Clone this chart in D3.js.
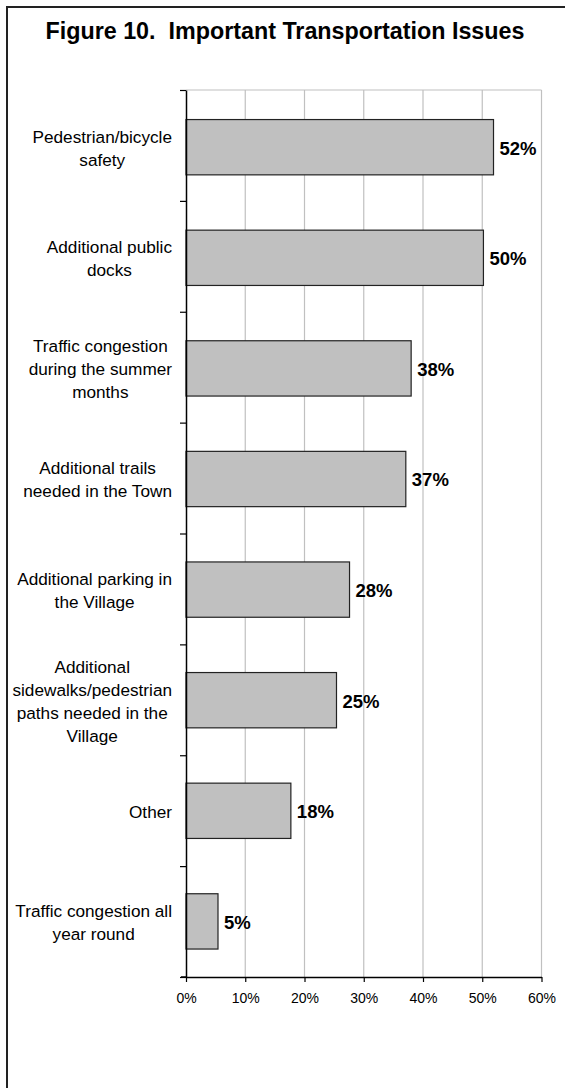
<!DOCTYPE html>
<html>
<head>
<meta charset="utf-8">
<script src="https://cdn.jsdelivr.net/npm/d3@7"></script>
<style>
  body { margin: 0; background: #fff; }
  svg { display: block; font-family: "Liberation Sans", Arial, sans-serif; }
</style>
</head>
<body>
<svg></svg>
<script>
// data
var categories = [
    ["Pedestrian/bicycle", "safety"],
    ["Additional public", "docks"],
    ["Traffic congestion", "during the summer", "months"],
    ["Additional trails", "needed in the Town"],
    ["Additional parking in", "the Village"],
    ["Additional", "sidewalks/pedestrian", "paths needed in the", "Village"],
    ["Other"],
    ["Traffic congestion all", "year round"]
];
var values = [0.519, 0.502, 0.380, 0.371, 0.276, 0.254, 0.177, 0.054];
var xTicks = [0, 0.1, 0.2, 0.3, 0.4, 0.5, 0.6];

var WIDTH = 565, HEIGHT = 1088;
var plot = { left: 186, right: 541.5, top: 90, bottom: 977 };

var svg = d3.select("svg")
    .attr("width", WIDTH)
    .attr("height", HEIGHT);

svg.append("rect")
    .attr("width", WIDTH).attr("height", HEIGHT)
    .attr("fill", "#fff");

// outer frame (runs off the right and bottom edge)
svg.append("rect")
    .attr("x", 7).attr("y", 7)
    .attr("width", 580).attr("height", 1110)
    .attr("fill", "none")
    .attr("stroke", "#222")
    .attr("stroke-width", 2);

svg.append("text")
    .attr("x", 285)
    .attr("y", 39)
    .attr("text-anchor", "middle")
    .style("white-space", "pre")
    .attr("font-size", "23.3px")
    .attr("font-weight", "bold")
    .text("Figure 10.  Important Transportation Issues");

var x = d3.scaleLinear().domain([0, 0.6]).range([plot.left, plot.right]);
var y = d3.scaleBand()
    .domain(d3.range(categories.length))
    .range([plot.top, plot.bottom])
    .paddingInner(0.5)
    .paddingOuter(0.26);

// gridlines
svg.append("g")
    .selectAll("line")
    .data(xTicks.slice(1))
    .enter().append("line")
    .attr("x1", d => x(d)).attr("x2", d => x(d))
    .attr("y1", plot.top).attr("y2", plot.bottom)
    .attr("stroke", "#c0c0c0")
    .attr("stroke-width", 1.2);

svg.append("line")
    .attr("x1", plot.left).attr("x2", plot.right)
    .attr("y1", plot.top).attr("y2", plot.top)
    .attr("stroke", "#c0c0c0")
    .attr("stroke-width", 1.2);

// bars
svg.append("g")
    .selectAll("rect")
    .data(values)
    .enter().append("rect")
    .attr("x", x(0))
    .attr("y", (d, i) => y(i) + 0.8)
    .attr("width", d => x(d) - x(0))
    .attr("height", y.bandwidth())
    .attr("fill", "#c0c0c0")
    .attr("stroke", "#222")
    .attr("stroke-width", 1.2);

// value labels
svg.append("g")
    .selectAll("text")
    .data(values)
    .enter().append("text")
    .attr("x", d => x(d) + 6)
    .attr("y", (d, i) => y(i) + y.bandwidth() / 2 + 1.5)
    .attr("dy", "0.36em")
    .attr("font-size", "18.5px")
    .attr("font-weight", "bold")
    .attr("fill", "#000")
    .text(d => Math.round(d * 100) + "%");

// axes
var yEdge = d3.scaleLinear().domain([0, categories.length]).range([plot.top, plot.bottom]);
svg.append("g")
    .attr("transform", "translate(" + plot.left + ",0)")
    .call(d3.axisLeft(yEdge).tickValues(d3.range(categories.length + 1)).tickFormat("").tickSize(6).tickSizeOuter(0));

var xAxis = svg.append("g")
    .attr("transform", "translate(0," + plot.bottom + ")")
    .call(d3.axisBottom(x).tickValues(xTicks).tickFormat(d3.format(".0%")).tickSize(5).tickSizeOuter(0).tickPadding(11));

svg.selectAll(".domain").attr("stroke", "#000").attr("stroke-width", 1.5);
svg.selectAll(".tick line").attr("stroke", "#000").attr("stroke-width", 1.2);
xAxis.selectAll("text")
    .attr("font-size", "14px")
    .attr("font-family", "Liberation Sans, Arial, sans-serif")
    .attr("fill", "#000");
// bottom axis line starts a little left of the plot
xAxis.append("line")
    .attr("x1", plot.left - 5).attr("x2", plot.left)
    .attr("stroke", "#000").attr("stroke-width", 1.5);

// category labels: block right-aligned, lines centred in the block
var lineH = 23, labelRight = 172;
var labels = svg.append("g");
categories.forEach(function (lines, i) {
    var cy = y(i) + y.bandwidth() / 2 + 1.5;
    var g = labels.append("g");
    var texts = lines.map(function (s, j) {
        return g.append("text")
            .attr("y", cy + (j - (lines.length - 1) / 2) * lineH)
            .attr("dy", "0.36em")
            .attr("text-anchor", "middle")
            .attr("font-size", "17.2px")
            .attr("fill", "#000")
            .text(s);
    });
    var w = d3.max(texts, t => t.node().getComputedTextLength());
    texts.forEach(t => t.attr("x", labelRight - w / 2));
});
</script>
</body>
</html>
